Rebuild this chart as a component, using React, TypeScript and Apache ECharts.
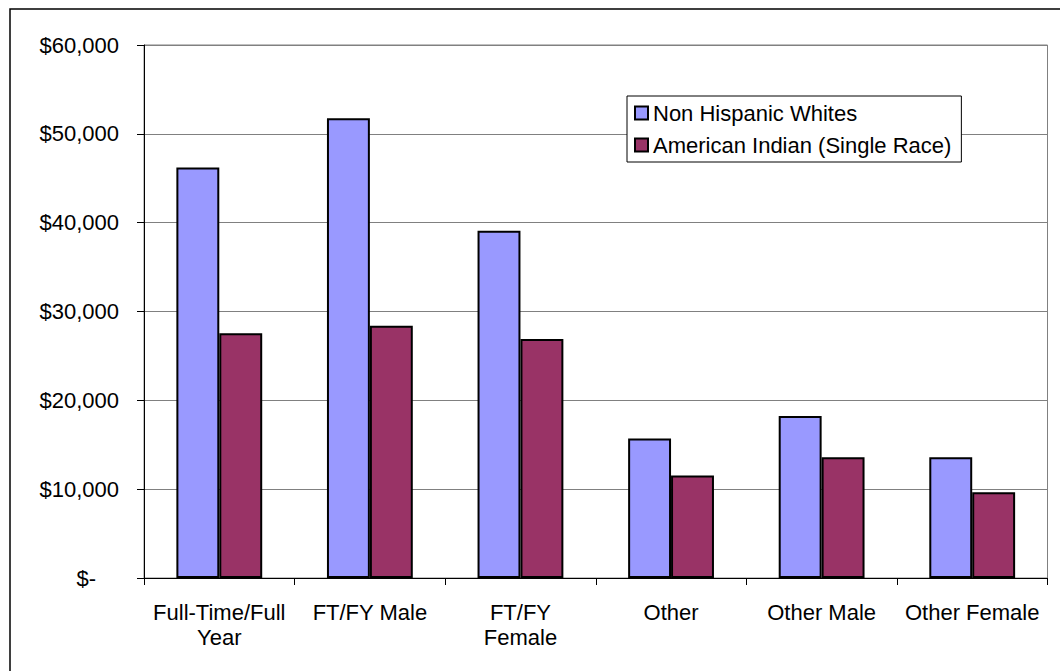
import React, { useEffect, useRef } from "react";
import * as echarts from "echarts";

const categories = [
  "Full-Time/Full\nYear",
  "FT/FY Male",
  "FT/FY\nFemale",
  "Other",
  "Other Male",
  "Other Female",
];
const nonHispanicWhites = [46200, 51750, 39100, 15700, 18250, 13600];
const americanIndian = [27550, 28400, 26900, 11550, 13600, 9650];
const yTicks = { min: 0, max: 60000, interval: 10000 };

const FONT = "'Liberation Sans', Arial, sans-serif";

export default function App() {
  const ref = useRef<HTMLDivElement>(null);
  useEffect(() => {
    if (!ref.current) return;
    const chart = echarts.init(ref.current, null, { renderer: "svg" });
    chart.setOption({
      animation: false,
      backgroundColor: "#fff",
      textStyle: { fontFamily: FONT, color: "#000" },
      graphic: [
        {
          type: "rect",
          shape: { x: 10, y: 9, width: 1200, height: 800 },
          style: { fill: "none", stroke: "#000", lineWidth: 1.5 },
          z: 100,
        },
      ],
      legend: {
        orient: "vertical",
        left: 627,
        top: 96,
        padding: [6, 10, 6, 7],
        itemGap: 10,
        itemWidth: 13,
        itemHeight: 13,
        borderColor: "#000",
        borderWidth: 1,
        backgroundColor: "#fff",
        icon: "rect",
        textStyle: { fontSize: 22, lineHeight: 22, color: "#000", fontFamily: FONT },
        data: ["Non Hispanic Whites", "American Indian (Single Race)"],
      },
      grid: {
        left: 144,
        top: 45,
        right: 12.5,
        bottom: 93,
        show: true,
        borderColor: "#808080",
        borderWidth: 1,
      },
      xAxis: {
        type: "category",
        data: categories,
        axisLine: { lineStyle: { color: "#000", width: 1 } },
        axisTick: { show: true, length: 7, lineStyle: { color: "#000" } },
        axisLabel: {
          fontSize: 22,
          lineHeight: 25,
          margin: 22,
          color: "#000",
          fontFamily: FONT,
          interval: 0,
        },
      },
      yAxis: {
        type: "value",
        min: yTicks.min,
        max: yTicks.max,
        interval: yTicks.interval,
        axisLine: { show: true, lineStyle: { color: "#000", width: 1 } },
        axisTick: { show: true, length: 7, lineStyle: { color: "#000" } },
        splitLine: { lineStyle: { color: "#808080", width: 1 } },
        axisLabel: {
          fontSize: 22,
          margin: 25,
          color: "#000",
          fontFamily: FONT,
          formatter: (v: number) =>
            v === 0 ? "{z|$-}" : "$" + v.toLocaleString("en-US"),
          rich: {
            z: { fontSize: 22, fontFamily: FONT, color: "#000", padding: [0, 23, 0, 0] },
          },
        },
      },
      series: [
        {
          name: "Non Hispanic Whites",
          type: "bar",
          data: nonHispanicWhites,
          barGap: "0%",
          barCategoryGap: "43%",
          itemStyle: { color: "#9999FF", borderColor: "#000", borderWidth: 2 },
        },
        {
          name: "American Indian (Single Race)",
          type: "bar",
          data: americanIndian,
          barGap: "0%",
          barCategoryGap: "43%",
          itemStyle: { color: "#993366", borderColor: "#000", borderWidth: 2 },
        },
      ],
    });
    return () => chart.dispose();
  }, []);
  return (
    <div
      ref={ref}
      style={{ position: "fixed", left: 0, top: 0, width: 1060, height: 671 }}
    />
  );
}
